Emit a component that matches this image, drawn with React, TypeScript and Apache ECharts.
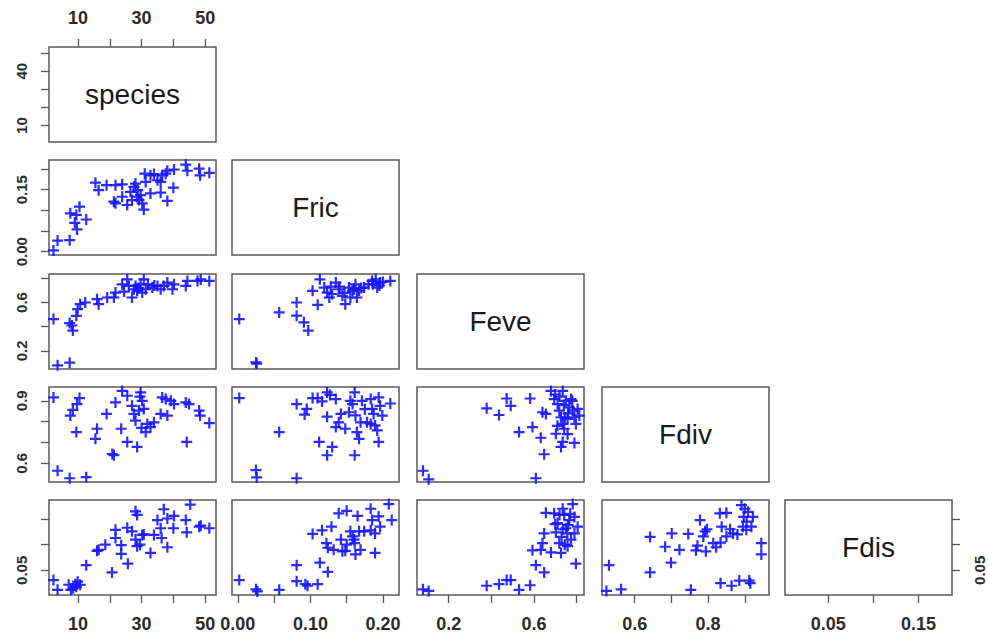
import React, { useEffect, useRef } from "react";
import * as echarts from "echarts";

// ---- variables, axis ticks and labels ----
const variables = ["species", "Fric", "Feve", "Fdiv", "Fdis"];
const speciesTicks = [10, 20, 30, 40, 50];
const fricTicks = [0, 0.05, 0.1, 0.15, 0.2];
const feveTicks = [0.2, 0.4, 0.6, 0.8];
const fdivTicks = [0.6, 0.7, 0.8, 0.9];
const fdisTicks = [0.05, 0.1, 0.15];
const xTickLabels = [[10, 30, 50], [0, 0.1, 0.2], [0.2, 0.6], [0.6, 0.8], [0.05, 0.15]];
const yTickLabels = [[10, 40], [0, 0.15], [0.2, 0.6], [0.6, 0.9], [0.05]];
const labelDecimals = [0, 2, 1, 1, 2];
const axisMin = [0.9, -0.008, 0.051, 0.511, 0.002];
const axisMax = [53.4, 0.222, 0.835, 0.966, 0.187];

// ---- panel data: [x, y] ----
const speciesFric = [
  [2.3, 0.003], [3.6, 0.027], [7.4, 0.028], [9.7, 0.054], [7.6, 0.093], [9.5, 0.089], [10.5, 0.109], [12.6, 0.078], [9, 0.07],
  [15.5, 0.167], [16.5, 0.149], [19, 0.161], [21.8, 0.161], [23.9, 0.163], [21.3, 0.121], [21.8, 0.117], [25.5, 0.113], [23.9, 0.133],
  [26.5, 0.145], [27.6, 0.157], [28.1, 0.165], [28.8, 0.149], [29.7, 0.137], [29.2, 0.125], [30.7, 0.102], [30.2, 0.117], [31.3, 0.169],
  [31, 0.189], [32.8, 0.185], [33.9, 0.188], [35, 0.173], [36, 0.169], [36.5, 0.185], [37.6, 0.189], [38.1, 0.196], [40.2, 0.199],
  [32.8, 0.141], [36, 0.143], [38.1, 0.123], [40, 0.155], [43.9, 0.211], [44.4, 0.196], [48.1, 0.201], [48.4, 0.185], [51.3, 0.191],
  [27, 0.125], [28.5, 0.133],
];
const speciesFeve = [
  [2.3, 0.463], [3.6, 0.081], [7.4, 0.103], [7.4, 0.43], [8.4, 0.368], [8.1, 0.41], [9.5, 0.49], [9.9, 0.545], [10.7, 0.586], [12.3, 0.6],
  [16, 0.627], [16.5, 0.586], [19.2, 0.641], [21.3, 0.641], [21.8, 0.682], [23.9, 0.75], [25.5, 0.79], [27, 0.641], [27.6, 0.709],
  [28.1, 0.737], [28.6, 0.696], [29.7, 0.75], [30.7, 0.79], [30.2, 0.682], [32, 0.75], [33.4, 0.723], [35, 0.737], [36, 0.709],
  [37, 0.737], [38.1, 0.764], [39.7, 0.709], [40.2, 0.75], [43.9, 0.737], [44.4, 0.778], [47.6, 0.778], [48.6, 0.79], [51.3, 0.778],
  [26, 0.737], [31.3, 0.709], [24.5, 0.69], [29, 0.72], [34, 0.74],
];
const speciesFdiv = [
  [2.3, 0.916], [3.6, 0.565], [7.4, 0.529], [12.6, 0.534], [7.6, 0.829], [8.4, 0.856], [9.7, 0.884], [10.5, 0.913], [9.5, 0.75],
  [16, 0.766], [15.5, 0.718], [19, 0.837], [21.8, 0.892], [21.3, 0.639], [20.8, 0.645], [23.6, 0.766], [23.9, 0.947], [25.5, 0.924],
  [25.5, 0.703], [27, 0.876], [27.6, 0.837], [28.1, 0.805], [28.6, 0.679], [29.2, 0.853], [29.7, 0.94], [30.2, 0.9], [30.7, 0.861],
  [31.3, 0.75], [31.8, 0.789], [32.8, 0.774], [33.9, 0.797], [36, 0.837], [36.5, 0.916], [37.6, 0.908], [38.1, 0.829], [39.2, 0.9],
  [40.2, 0.884], [43.9, 0.892], [44.9, 0.884], [44.2, 0.703], [48.1, 0.853], [48.4, 0.829], [51.3, 0.793], [30, 0.77], [29.5, 0.92],
];
const speciesFdis = [
  [2.3, 0.031], [3.6, 0.012], [7.1, 0.022], [7.8, 0.012], [9.2, 0.023], [9.9, 0.028], [10.7, 0.022], [8.5, 0.015], [9.5, 0.018],
  [12.6, 0.06], [16, 0.088], [16.5, 0.09], [18.6, 0.1], [20.7, 0.046], [21.8, 0.129], [21.8, 0.113], [23.6, 0.099], [23.6, 0.082],
  [25.5, 0.133], [25.7, 0.063], [27, 0.126], [28.1, 0.165], [28.6, 0.158], [28.1, 0.11], [28.6, 0.097], [30.2, 0.119], [30.7, 0.12],
  [29.5, 0.1], [32.8, 0.084], [33.9, 0.119], [35, 0.148], [36, 0.132], [36.3, 0.113], [37, 0.169], [38.1, 0.151], [38.1, 0.095],
  [40.2, 0.156], [40, 0.132], [43.9, 0.148], [44.2, 0.124], [45.3, 0.178], [48.1, 0.135], [48.6, 0.137], [51.3, 0.132],
];
const fricFeve = [
  [0.002, 0.463], [0.026, 0.095], [0.025, 0.105], [0.057, 0.518], [0.081, 0.6], [0.081, 0.491], [0.091, 0.436], [0.097, 0.368],
  [0.11, 0.581], [0.103, 0.696], [0.113, 0.791], [0.119, 0.723], [0.123, 0.682], [0.126, 0.641], [0.135, 0.764], [0.139, 0.709],
  [0.144, 0.655], [0.148, 0.586], [0.153, 0.723], [0.158, 0.696], [0.162, 0.75], [0.164, 0.641], [0.167, 0.696], [0.174, 0.723],
  [0.18, 0.75], [0.185, 0.778], [0.19, 0.791], [0.192, 0.723], [0.196, 0.764], [0.21, 0.778], [0.147, 0.68], [0.13, 0.67],
  [0.155, 0.641], [0.195, 0.74], [0.128, 0.73], [0.17, 0.72], [0.186, 0.75], [0.2, 0.77], [0.14, 0.73], [0.16, 0.71],
];
const fricFdiv = [
  [0.002, 0.913], [0.025, 0.568], [0.026, 0.533], [0.081, 0.529], [0.057, 0.75], [0.081, 0.884], [0.095, 0.861], [0.092, 0.834],
  [0.103, 0.913], [0.11, 0.913], [0.116, 0.897], [0.123, 0.94], [0.127, 0.928], [0.135, 0.908], [0.123, 0.824], [0.112, 0.703],
  [0.13, 0.679], [0.123, 0.639], [0.135, 0.774], [0.139, 0.797], [0.142, 0.837], [0.148, 0.766], [0.153, 0.845], [0.158, 0.884],
  [0.161, 0.94], [0.161, 0.639], [0.164, 0.75], [0.167, 0.718], [0.169, 0.797], [0.171, 0.9], [0.178, 0.797], [0.183, 0.908],
  [0.185, 0.861], [0.187, 0.837], [0.189, 0.782], [0.192, 0.758], [0.194, 0.916], [0.196, 0.876], [0.194, 0.703], [0.199, 0.829],
  [0.21, 0.887], [0.183, 0.789], [0.162, 0.83], [0.155, 0.9], [0.175, 0.86],
];
const fricFdis = [
  [0.002, 0.031], [0.025, 0.013], [0.027, 0.009], [0.057, 0.012], [0.081, 0.06], [0.081, 0.029], [0.093, 0.023], [0.096, 0.02],
  [0.11, 0.023], [0.113, 0.065], [0.124, 0.047], [0.103, 0.121], [0.116, 0.128], [0.129, 0.135], [0.122, 0.103], [0.124, 0.094],
  [0.132, 0.09], [0.139, 0.161], [0.15, 0.166], [0.142, 0.11], [0.144, 0.087], [0.148, 0.088], [0.155, 0.126], [0.158, 0.116],
  [0.161, 0.103], [0.162, 0.081], [0.165, 0.156], [0.167, 0.126], [0.169, 0.09], [0.174, 0.126], [0.183, 0.17], [0.185, 0.148],
  [0.189, 0.122], [0.189, 0.084], [0.194, 0.155], [0.196, 0.135], [0.208, 0.179], [0.212, 0.148], [0.183, 0.128], [0.16, 0.11],
  [0.15, 0.1],
];
const feveFdiv = [
  [0.079, 0.565], [0.106, 0.524], [0.609, 0.529], [0.378, 0.864], [0.436, 0.832], [0.472, 0.911], [0.491, 0.876], [0.582, 0.911],
  [0.53, 0.75], [0.593, 0.774], [0.632, 0.723], [0.648, 0.644], [0.64, 0.845], [0.656, 0.837], [0.68, 0.947], [0.695, 0.908],
  [0.703, 0.742], [0.711, 0.884], [0.719, 0.853], [0.727, 0.821], [0.735, 0.947], [0.735, 0.789], [0.742, 0.766], [0.75, 0.9],
  [0.758, 0.813], [0.766, 0.868], [0.774, 0.908], [0.782, 0.853], [0.79, 0.821], [0.797, 0.789], [0.805, 0.861], [0.813, 0.829],
  [0.735, 0.703], [0.727, 0.679], [0.79, 0.698], [0.758, 0.74], [0.71, 0.78], [0.745, 0.82], [0.78, 0.9], [0.7, 0.93],
  [0.72, 0.92], [0.76, 0.84], [0.74, 0.88],
];
const feveFdis = [
  [0.079, 0.013], [0.106, 0.01], [0.378, 0.02], [0.436, 0.023], [0.472, 0.031], [0.491, 0.031], [0.53, 0.012], [0.582, 0.021],
  [0.609, 0.06], [0.648, 0.046], [0.593, 0.089], [0.632, 0.09], [0.64, 0.103], [0.648, 0.122], [0.656, 0.162], [0.68, 0.085],
  [0.695, 0.161], [0.703, 0.124], [0.711, 0.142], [0.719, 0.103], [0.727, 0.084], [0.735, 0.17], [0.735, 0.13], [0.742, 0.158],
  [0.75, 0.132], [0.758, 0.097], [0.766, 0.148], [0.774, 0.11], [0.782, 0.179], [0.79, 0.154], [0.797, 0.063], [0.805, 0.135],
  [0.79, 0.122], [0.72, 0.158], [0.757, 0.122], [0.7, 0.14], [0.745, 0.1], [0.77, 0.16], [0.73, 0.115], [0.76, 0.138],
];
const fdivFdis = [
  [0.53, 0.06], [0.523, 0.01], [0.563, 0.013], [0.642, 0.115], [0.642, 0.046], [0.683, 0.096], [0.701, 0.122], [0.699, 0.065],
  [0.722, 0.09], [0.746, 0.121], [0.753, 0.012], [0.767, 0.089], [0.771, 0.098], [0.778, 0.148], [0.792, 0.126], [0.794, 0.087],
  [0.797, 0.13], [0.814, 0.103], [0.822, 0.095], [0.832, 0.161], [0.834, 0.104], [0.834, 0.025], [0.837, 0.135], [0.85, 0.162],
  [0.85, 0.116], [0.86, 0.13], [0.864, 0.02], [0.868, 0.122], [0.885, 0.03], [0.891, 0.177], [0.895, 0.135], [0.897, 0.154],
  [0.9, 0.17], [0.904, 0.129], [0.909, 0.164], [0.912, 0.03], [0.915, 0.025], [0.918, 0.135], [0.922, 0.154], [0.945, 0.103],
  [0.945, 0.081], [0.787, 0.116], [0.88, 0.12], [0.905, 0.145],
];

const allTicks = [speciesTicks, fricTicks, feveTicks, fdivTicks, fdisTicks];
// panelData[row][col], row = y variable, col = x variable
const panelData: Record<string, number[][]> = {
  "1-0": speciesFric,
  "2-0": speciesFeve,
  "3-0": speciesFdiv,
  "4-0": speciesFdis,
  "2-1": fricFeve,
  "3-1": fricFdiv,
  "4-1": fricFdis,
  "3-2": feveFdiv,
  "4-2": feveFdis,
  "4-3": fdivFdis,
};

// ---- layout ----
const colLeft = [49, 232, 417, 602, 785];
const rowTop = [47, 160, 274, 387, 500];
const PW = 167;
const PH = 95;
const FONT = "'Liberation Sans', Arial, sans-serif";

function makeAxis(v: number, gridIndex: number, position: string, show: boolean, labelVals: number[], isY: boolean) {
  return {
    type: "value",
    gridIndex,
    position,
    min: axisMin[v],
    max: axisMax[v],
    axisLine: { show: false },
    splitLine: { show: false },
    axisTick: {
      show,
      length: 8,
      customValues: allTicks[v],
      lineStyle: { color: "#555", width: 1.3 },
    },
    axisLabel: {
      show,
      customValues: labelVals,
      margin: isY ? 20 : 20,
      rotate: isY ? 90 : 0,
      formatter: (val: number) => val.toFixed(labelDecimals[v]),
      color: "#2b2b2b",
      fontSize: isY ? 15 : 18,
      fontWeight: "bold",
      fontFamily: FONT,
    },
  };
}

export default function App() {
  const ref = useRef<HTMLDivElement>(null);
  useEffect(() => {
    if (!ref.current) return;
    const chart = echarts.init(ref.current, null, { renderer: "svg" });
    const grid: any[] = [];
    const xAxis: any[] = [];
    const yAxis: any[] = [];
    const series: any[] = [];
    const graphic: any[] = [];
    let gi = 0;
    for (let r = 0; r < 5; r++) {
      for (let c = 0; c <= r; c++) {
        const diag = r === c;
        grid.push({
          left: colLeft[c],
          top: rowTop[r],
          width: PW,
          height: PH,
          show: true,
          borderColor: "#5a5a5a",
          borderWidth: 1.5,
          backgroundColor: "transparent",
        });
        const showTop = r === 0 && c === 0;
        const showBottom = r === 4;
        const showLeft = c === 0;
        const showRight = diag && r === 4;
        xAxis.push(makeAxis(c, gi, showTop ? "top" : "bottom", showTop || showBottom, xTickLabels[c], false));
        yAxis.push(makeAxis(r, gi, showRight ? "right" : "left", showLeft || showRight, yTickLabels[r], true));
        if (diag) {
          graphic.push({
            type: "text",
            x: colLeft[c] + PW / 2,
            y: rowTop[r] + PH / 2,
            style: {
              text: variables[r],
              fontSize: 28,
              fontFamily: FONT,
              fill: "#1a1a1a",
              align: "center",
              verticalAlign: "middle",
            },
          });
        } else {
          series.push({
            type: "scatter",
            xAxisIndex: gi,
            yAxisIndex: gi,
            data: panelData[`${r}-${c}`],
            symbol: "path://M4,0H6V4H10V6H6V10H4V6H0V4H4Z",
            symbolSize: 11,
            itemStyle: { color: "#1414ff", opacity: 0.9 },
            emphasis: { disabled: true },
            silent: true,
          });
        }
        gi++;
      }
    }
    chart.setOption({
      animation: false,
      backgroundColor: "#ffffff",
      textStyle: { fontFamily: FONT },
      grid,
      xAxis,
      yAxis,
      series,
      graphic,
    });
    return () => chart.dispose();
  }, []);
  return (
    <div
      ref={ref}
      style={{ position: "fixed", left: 0, top: 0, width: 989, height: 635, background: "#fff" }}
    />
  );
}
